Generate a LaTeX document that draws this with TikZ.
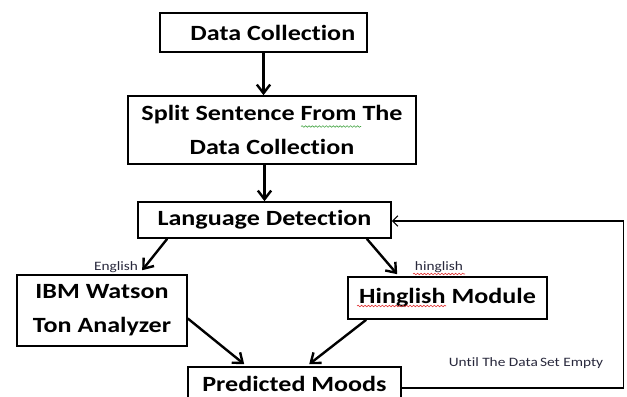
\documentclass[tikz,border=0pt]{standalone}
\usepackage{fontspec}
\setmainfont{Carlito}[FakeStretch=1.2,Ligatures=NoCommon,Contextuals=NoAlternate,RawFeature={-dlig;-hlig}]
\usetikzlibrary{arrows.meta,calc,decorations.pathmorphing}
\definecolor{spellred}{RGB}{225,50,50}
\definecolor{spellgreen}{RGB}{70,165,70}
\definecolor{tagtext}{RGB}{40,40,60}

\begin{document}
\begin{tikzpicture}[x=0.75pt,y=-0.75pt,
    box/.style={draw,line width=1.2pt,inner sep=0pt,align=center,
      font=\bfseries\fontsize{16.3}{25.5}\selectfont},
    flow/.style={line width=1.8pt,-{Straight Barb[length=6.5pt,width=10pt]}},
    back/.style={line width=0.8pt,-{Straight Barb[length=4pt,width=8pt]}},
    tag/.style={text=tagtext,inner sep=0pt,font=\fontsize{9.6}{11}\selectfont},
    spell/.style={decorate,decoration={snake,amplitude=0.6pt,segment length=2.6pt},line width=0.45pt}]
    \useasboundingbox (0,0) rectangle (627,396);
    \clip (0,0) rectangle (627,396);
    % Steps
    \node[box,minimum width=155.25pt,minimum height=29.25pt] (collect) at (263.5,32.5) {\hspace*{14pt}Data Collection};
    \node[box,minimum width=216pt,minimum height=51pt] (split) at (272,130) {Split Sentence From The\\Data Collection};
    \node[box,minimum width=189.75pt,minimum height=27pt] (detect) at (264.5,220) {Language Detection};
    \node[box,minimum width=127.5pt,minimum height=53.25pt] (watson) at (102,310.5) {IBM Watson\\Ton Analyzer};
    \node[box,minimum width=149.25pt,minimum height=31.5pt] (hinglish) at (447.5,298) {Hinglish Module};
    \node[box,minimum width=159.75pt,minimum height=25.5pt] (moods) at (294.5,384) {Predicted Moods};
    % Branch labels
    \node[tag] (english) at (116,267) {English};
    \node[tag] (hing) at (439,267) {hinglish};
    \node[tag] (until) at (526,363) {Until The Data\,Set Empty};
    % Flow
    \draw[flow] (collect.south) -- (collect.south |- split.north);
    \draw[flow] (detect.north |- split.south) -- (detect.north);
    \draw[flow] ($(detect.south west)+(30,0)$) -- ($(watson.north west)+(126,-4)$);
    \draw[flow] ($(detect.south east)+(-25,0)$) -- ($(hinglish.north west)+(50,-2)$);
    \draw[flow] ($(watson.east)+(0,8)$) -- ($(moods.north west)+(57,-2)$);
    \draw[flow] ($(hinglish.south west)+(19,0)$) -- ($(moods.north west)+(122,-2)$);
    % Loop back
    \draw[back] ($(moods.east)+(0,4)$) -- ++(222,0) |- ($(detect.east)+(0,1)$);
    % Spell check marks
    \draw[spell,spellgreen] (301,126.5) -- (361,126.5);
    \draw[spell,spellred] (357,306) -- (446,306);
    \draw[spell,spellred] (413,274) -- (465,274);
\end{tikzpicture}
\end{document}
